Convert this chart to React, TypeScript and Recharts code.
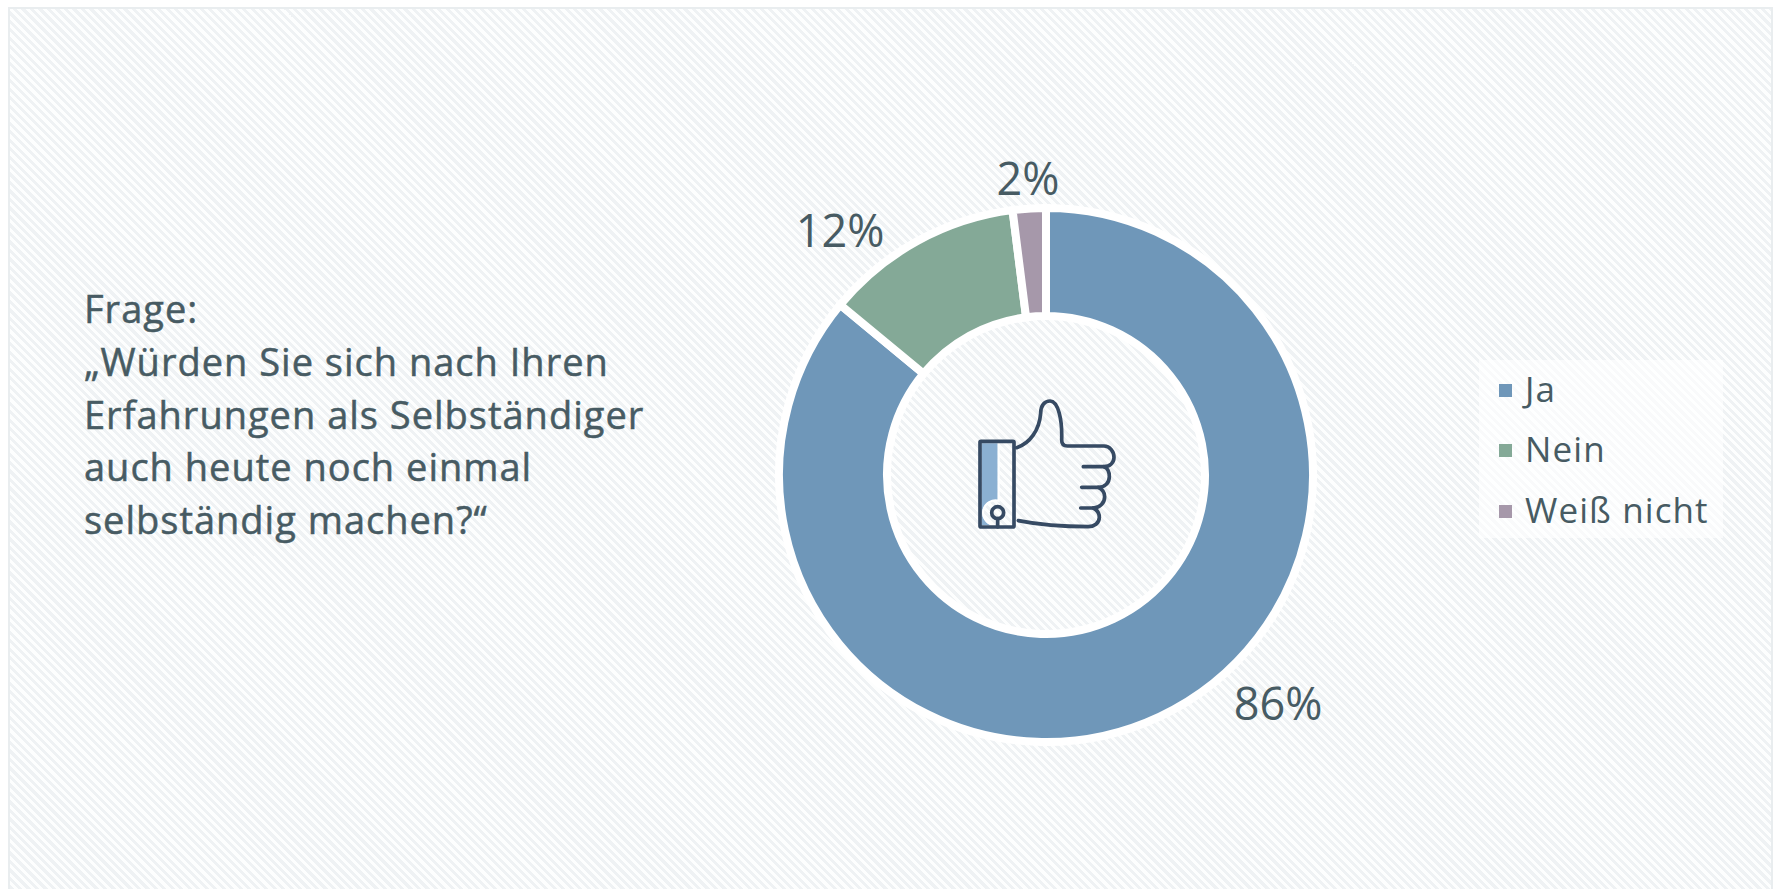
import React from 'react';
import { PieChart, Pie, Cell, Legend } from 'recharts';

const categories = ['Ja', 'Nein', 'Weiß nicht'];
const shares = [86, 12, 2];
const colors = ['#6f97b9', '#84a997', '#a698aa'];
const questionLines = [
    'Frage:',
    '„Würden Sie sich nach Ihren',
    'Erfahrungen als Selbständiger',
    'auch heute noch einmal',
    'selbständig machen?“'
];

const FONT = '"Open Sans", Lato, sans-serif';
const TEXT = '#475b63';
const INK = '#364a63';
const chartData = categories.map((name, i) => ({ name, value: shares[i] }));

// labels sit by hand in the source, not on the slice midpoint
const labelOffsets = [
    { dx: 232, dy: 245 },
    { dx: -206, dy: -228 },
    { dx: -18, dy: -280 }
];

const renderLabel = (props: any) => {
    const { cx, cy, index, value } = props;
    const o = labelOffsets[index];
    return (
        <text x={cx + o.dx} y={cy + o.dy} fill={TEXT} fontFamily={FONT} fontSize={45} textAnchor="middle">
            {value}%
        </text>
    );
};

const renderLegend = (props: any) => (
    <div>
        {props.payload.map((entry: any) => (
            <div key={entry.value} style={{ display: 'flex', alignItems: 'center', height: 60.5 }}>
                <span style={{ width: 13, height: 13, marginRight: 13, background: entry.color }} />
                <span
                    style={{
                        position: 'relative',
                        top: -2,
                        color: TEXT,
                        fontSize: 35,
                        letterSpacing: 1.1,
                        whiteSpace: 'nowrap'
                    }}
                >
                    {entry.value}
                </span>
            </div>
        ))}
    </div>
);

const Thumb = () => (
    <svg width={200} height={170} viewBox="0 0 600 510" style={{ position: 'absolute', left: 950, top: 380 }}>
        <path d="M95 190H143V362A36 36 0 0 0 125 435H95Z" fill="#8bb0d2" />
        <path d="M146 190V362A36 36 0 0 0 128 435" fill="none" stroke="#fff" strokeWidth={6} />
        <g fill="none" stroke={INK} strokeWidth={11} strokeLinecap="round" strokeLinejoin="round">
            <rect x={90} y={184} width={102} height={257} rx={3} />
            <circle cx={143} cy={398} r={18} />
            <path d="M143 416V441" />
            <path d="M200 203C240 190 268 150 272 100C272 75 285 63 300 63C325 63 337 120 335 180C335 192 340 198 352 198H462C480 198 492 215 492 232C492 248 480 260 462 260H400" />
            <path d="M462 260C475 265 478 280 478 290C478 308 465 322 445 322H395" />
            <path d="M445 322C458 328 464 340 464 350C464 368 450 384 430 384H392" />
            <path d="M430 384C442 390 448 402 448 412C448 430 432 440 415 440C340 440 270 435 205 422" />
        </g>
    </svg>
);

const App: React.FC = () => (
    <div
        style={{
            position: 'absolute',
            left: 0,
            top: 0,
            width: 1777,
            height: 889,
            overflow: 'hidden',
            background: '#fff',
            fontFamily: FONT
        }}
    >
        <div
            style={{
                position: 'absolute',
                left: 8,
                top: 7,
                width: 1765,
                height: 882,
                boxSizing: 'border-box',
                borderTop: '2px solid #e9edef',
                borderLeft: '2px solid #e9edef',
                borderRight: '2px solid #e9edef',
                background:
                    'repeating-linear-gradient(45deg, #eff2f4 0px, #eff2f4 3px, #fdfefe 3px, #fdfefe 6px)'
            }}
        />
        <div
            style={{
                position: 'absolute',
                left: 84,
                top: 282,
                color: TEXT,
                fontSize: 38,
                lineHeight: '52.75px',
                letterSpacing: 1,
                WebkitTextStroke: `0.5px ${TEXT}`
            }}
        >
            {questionLines.map(line => (
                <div key={line} style={{ whiteSpace: 'nowrap' }}>
                    {line}
                </div>
            ))}
        </div>
        <div style={{ position: 'absolute', left: 0, top: 0 }}>
            <PieChart width={1777} height={889} margin={{ top: 0, right: 0, bottom: 0, left: 0 }}>
                <Pie
                    data={chartData}
                    dataKey="value"
                    nameKey="name"
                    cx={1046}
                    cy={475}
                    innerRadius={159}
                    outerRadius={267}
                    startAngle={90}
                    endAngle={-270}
                    stroke="#fff"
                    strokeWidth={8}
                    label={renderLabel}
                    labelLine={false}
                    isAnimationActive={false}
                >
                    {chartData.map((entry, index) => (
                        <Cell key={entry.name} fill={colors[index]} />
                    ))}
                </Pie>
                <Legend
                    layout="vertical"
                    align="right"
                    verticalAlign="middle"
                    content={renderLegend}
                    wrapperStyle={{
                        left: 1479,
                        top: 360,
                        width: 244,
                        height: 178,
                        background: 'rgba(255,255,255,0.6)',
                        padding: '0 0 0 20px',
                        boxSizing: 'border-box'
                    }}
                />
            </PieChart>
        </div>
        <Thumb />
    </div>
);

export default App;
